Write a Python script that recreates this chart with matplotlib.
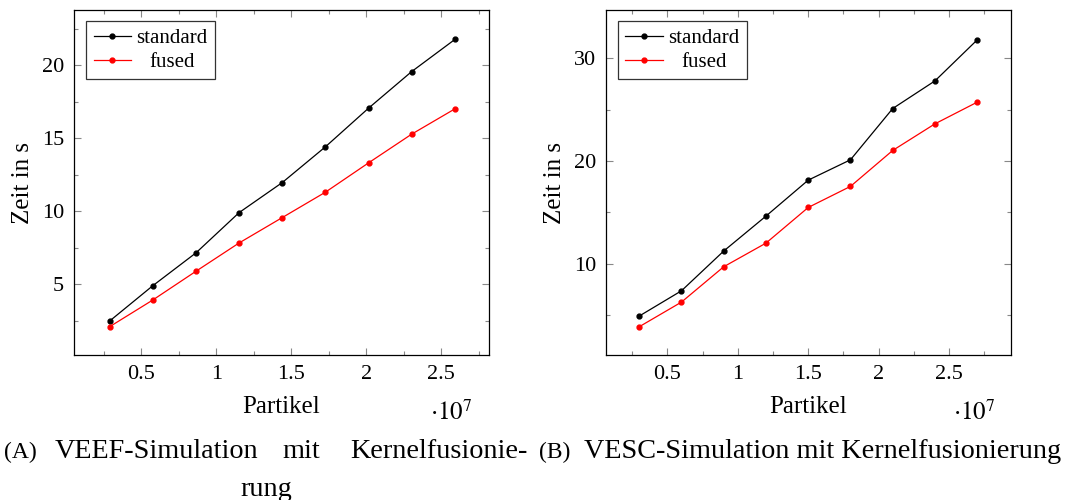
import numpy as np
import matplotlib
matplotlib.use("Agg")
import matplotlib.pyplot as plt
from matplotlib.ticker import MultipleLocator, FuncFormatter

plt.rcParams['font.family'] = ['Liberation Serif', 'DejaVu Serif']
plt.rcParams['mathtext.fontset'] = 'stix'

# (A) VEEF
veef_particles = [2.88e6, 5.76e6, 8.64e6, 1.152e7, 1.44e7, 1.728e7, 2.016e7, 2.304e7, 2.592e7]
veef_standard = [2.48, 4.90, 7.15, 9.91, 11.97, 14.42, 17.07, 19.58, 21.78]
veef_fused = [2.09, 3.92, 5.89, 7.83, 9.57, 11.31, 13.32, 15.29, 17.02]

# (B) VESC
vesc_particles = [3e6, 6e6, 9e6, 1.2e7, 1.5e7, 1.8e7, 2.1e7, 2.4e7, 2.7e7]
vesc_standard = [4.91, 7.37, 11.24, 14.64, 18.14, 20.12, 25.11, 27.80, 31.79]
vesc_fused = [3.87, 6.27, 9.71, 12.01, 15.48, 17.53, 21.03, 23.62, 25.73]

W, H = 1065, 500
fig = plt.figure(figsize=(W / 100, H / 100), dpi=100)


def px(x0, y0, x1, y1):
    return [x0 / W, 1 - y1 / H, (x1 - x0) / W, (y1 - y0) / H]


def panel(rect, x, std, fus, xlim, ylim, ymaj, ymin_):
    ax = fig.add_axes(rect)
    ax.plot(x, std, color='black', lw=0.9, marker='o', ms=3.5, label='standard')
    ax.plot(x, fus, color='red', lw=0.9, marker='o', ms=3.5, label='fused')
    ax.set_xlim(*xlim)
    ax.set_ylim(*ylim)
    ax.xaxis.set_major_locator(MultipleLocator(5e6))
    ax.xaxis.set_minor_locator(MultipleLocator(2.5e6))
    ax.xaxis.set_major_formatter(FuncFormatter(lambda v, p: '%g' % round(v / 1e7, 3)))
    ax.yaxis.set_major_locator(MultipleLocator(ymaj))
    ax.yaxis.set_minor_locator(MultipleLocator(ymin_))
    ax.tick_params(which='both', direction='in', top=True, right=True,
                   color='#888888', labelsize=16, width=0.8)
    ax.tick_params(which='major', length=5, pad=7)
    ax.tick_params(which='minor', length=3)
    for s in ax.spines.values():
        s.set_linewidth(0.9)
    ax.set_xlabel('Partikel', fontsize=18, labelpad=9)
    ax.set_ylabel('Zeit in s', fontsize=18, labelpad=6)
    ax.text(0.91, -0.13, r'$\cdot 10^{7}$', transform=ax.transAxes,
            fontsize=18, ha='center', va='top')
    leg = ax.legend(loc='upper left', bbox_to_anchor=(0.03, 0.967), fontsize=15,
                    frameon=True, fancybox=False, edgecolor='black',
                    handlelength=1.8, handletextpad=0.25, borderpad=0.35,
                    labelspacing=0.2, borderaxespad=0)
    leg.get_frame().set_linewidth(0.9)
    # centre the shorter label in the text column, like pgfplots
    fig.canvas.draw()
    r = fig.canvas.get_renderer()
    widths = [t.get_window_extent(r).width for t in leg.get_texts()]
    wmax = max(widths)
    for t, w in zip(leg.get_texts(), widths):
        t.set_position(((wmax - w) / 2, 0))
    return ax


panel(px(74, 10, 489, 355), veef_particles, veef_standard, veef_fused,
      (0.05e7, 2.82e7), (0.15, 23.8), 5, 2.5)
panel(px(606, 10, 1011, 355), vesc_particles, vesc_standard, vesc_fused,
      (0.064e7, 2.94e7), (1.12, 34.7), 10, 5)

# captions
cy1 = 1 - 452 / H
cy2 = 1 - 489 / H
fs = 20.3
fig.text(4 / W, cy1, '(A)', fontsize=17, va='center', ha='left')
fig.text(55 / W, cy1, 'VEEF-Simulation', fontsize=fs, va='center', ha='left')
fig.text(301 / W, cy1, 'mit', fontsize=fs, va='center', ha='center')
fig.text(528 / W, cy1, 'Kernelfusionie-', fontsize=fs, va='center', ha='right')
fig.text(266 / W, cy2, 'rung', fontsize=fs, va='center', ha='center')
fig.text(539 / W, cy1, '(B)', fontsize=17, va='center', ha='left')
fig.text(1061 / W, cy1, 'VESC-Simulation mit Kernelfusionierung', fontsize=fs,
         va='center', ha='right')

fig.savefig('out.png', dpi=100)
